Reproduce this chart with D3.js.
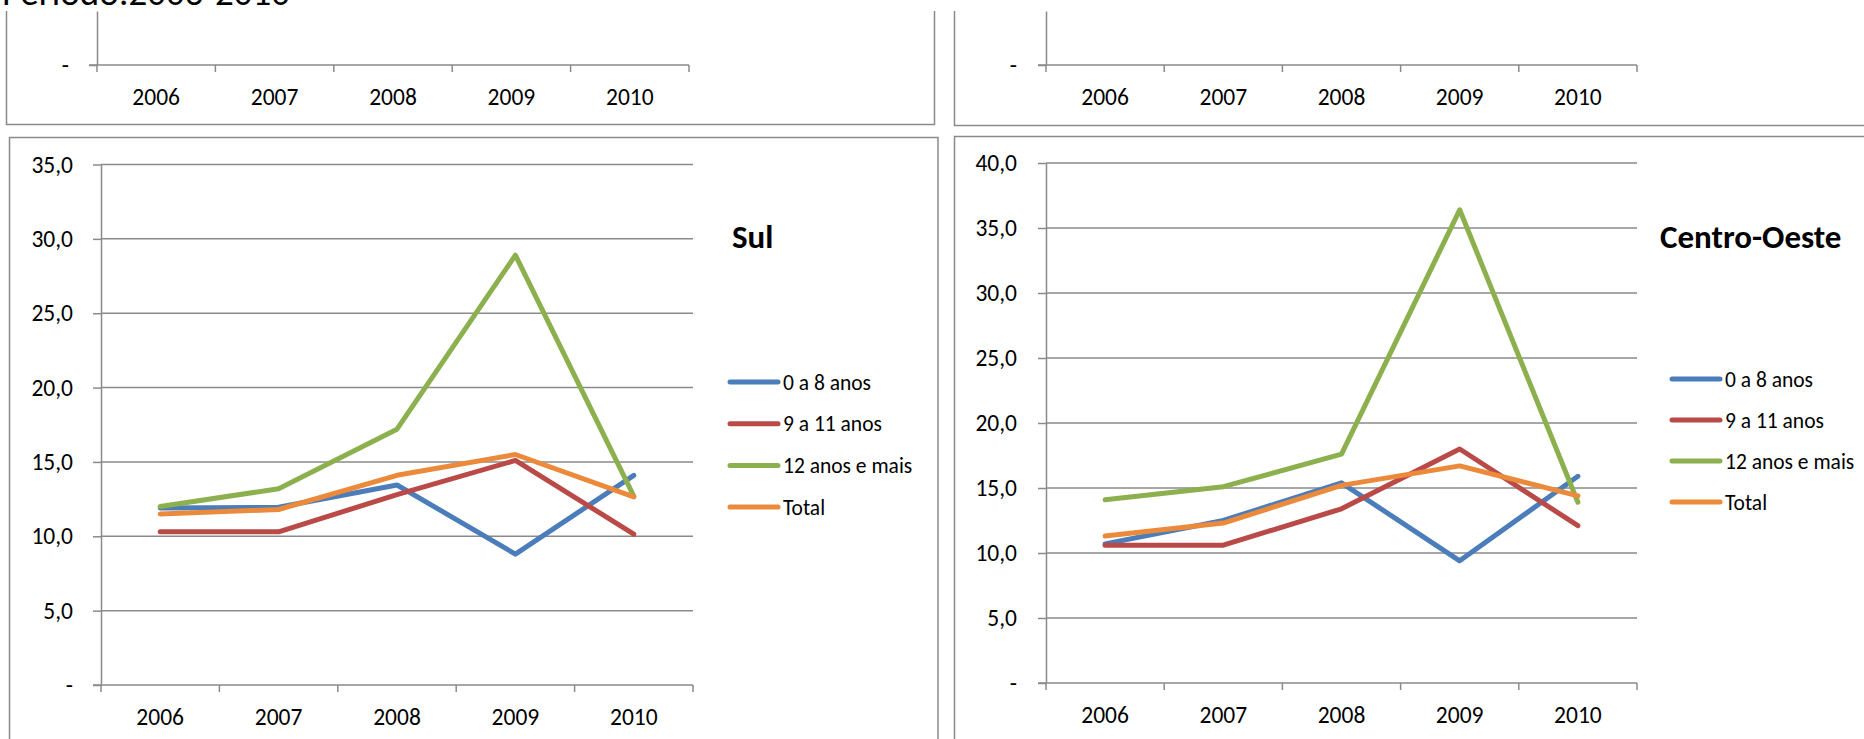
<!DOCTYPE html>
<html>
<head>
<meta charset="utf-8">
<script src="https://cdn.jsdelivr.net/npm/d3@7"></script>
<style>
  body { margin: 0; background: #fff; }
  svg text { font-family: Carlito, Lato, sans-serif; fill: #000; }
</style>
</head>
<body>
<script>
// categorias e series
var years = ["2006", "2007", "2008", "2009", "2010"];
var seriesNames = ["0 a 8 anos", "9 a 11 anos", "12 anos e mais", "Total"];

var sul0a8    = [11.9, 11.95, 13.45, 8.8, 14.1];
var sul9a11   = [10.3, 10.3, 12.8, 15.1, 10.15];
var sul12mais = [12.0, 13.2, 17.2, 28.9, 12.7];
var sulTotal  = [11.5, 11.8, 14.1, 15.5, 12.65];

var co0a8    = [10.7, 12.5, 15.4, 9.4, 15.9];
var co9a11   = [10.6, 10.6, 13.4, 18.0, 12.1];
var co12mais = [14.1, 15.1, 17.6, 36.4, 13.9];
var coTotal  = [11.3, 12.3, 15.2, 16.7, 14.4];

var sulTicks = [0, 5, 10, 15, 20, 25, 30, 35];
var coTicks  = [0, 5, 10, 15, 20, 25, 30, 35, 40];

var colors = ["#4a7dba", "#b94a47", "#8db04e", "#ec8a3c"];
var gray = "#8a8a8a";

var width = 1864, height = 739;
var svg = d3.select("body").append("svg")
  .attr("width", width)
  .attr("height", height);

function fmt(d) {
  return d === 0 ? "-" : d.toFixed(1).replace(".", ",");
}

// bordas dos paineis
var borders = [
  {x: 6.5, y: -20, w: 928, h: 144.5},
  {x: 954.5, y: -20, w: 1000, h: 145.5},
  {x: 9.5, y: 137.5, w: 928.5, h: 700},
  {x: 954.5, y: 136.5, w: 1000, h: 700}
];
svg.selectAll("rect.border").data(borders).enter().append("rect")
  .attr("class", "border")
  .attr("x", function (b) { return b.x; })
  .attr("y", function (b) { return b.y; })
  .attr("width", function (b) { return b.w; })
  .attr("height", function (b) { return b.h; })
  .attr("fill", "#fff")
  .attr("stroke", gray)
  .attr("stroke-width", 1.5);

function xAxisBand(g, x, y0) {
  var xa = g.append("g")
    .attr("transform", "translate(0," + y0 + ")")
    .call(d3.axisBottom(x).tickSize(0).tickSizeOuter(0).tickPadding(0));
  xa.select(".domain").remove();
  xa.selectAll("text")
    .attr("y", 32)
    .attr("dy", "0.35em")
    .style("font-size", "23.5px");
  var edges = years.map(function (d) { return x(d); }).concat([x.range()[1]]);
  g.append("line")
    .attr("x1", x.range()[0] - 8).attr("x2", x.range()[1])
    .attr("y1", y0).attr("y2", y0)
    .attr("stroke", gray).attr("stroke-width", 1.5);
  g.selectAll("line.xtick").data(edges).enter().append("line")
    .attr("class", "xtick")
    .attr("x1", function (d) { return d; })
    .attr("x2", function (d) { return d; })
    .attr("y1", y0).attr("y2", y0 + 7)
    .attr("stroke", gray).attr("stroke-width", 1.5);
}

// paineis de cima (cortados)
function topPanel(x0, x1, pad) {
  var g = svg.append("g");
  var x = d3.scaleBand().domain(years).range([x0, x1]);
  var y = d3.scaleLinear().domain([0, 1]).range([65, 11]);
  var ya = g.append("g")
    .attr("transform", "translate(" + x0 + ",0)")
    .call(d3.axisLeft(y).tickValues([0]).tickSize(8).tickSizeOuter(0)
      .tickPadding(pad).tickFormat(fmt));
  ya.select(".domain").attr("stroke", gray).attr("stroke-width", 1.5);
  ya.selectAll(".tick line").attr("stroke", gray).attr("stroke-width", 1.5);
  ya.selectAll("text").style("font-size", "23.5px");
  xAxisBand(g, x, 65);
}
topPanel(97, 689, 20);
topPanel(1046, 1637, 21);

// paineis de baixo
function linePanel(opt) {
  var g = svg.append("g");
  var x = d3.scaleBand().domain(years).range([opt.x0, opt.x1]);
  var y = d3.scaleLinear().domain([0, opt.max]).range([opt.yBottom, opt.yTop]);

  g.selectAll("line.grid").data(opt.ticks.filter(function (t) { return t > 0; }))
    .enter().append("line")
    .attr("class", "grid")
    .attr("x1", opt.x0).attr("x2", opt.x1)
    .attr("y1", function (t) { return y(t); })
    .attr("y2", function (t) { return y(t); })
    .attr("stroke", gray).attr("stroke-width", 1.5);

  var ya = g.append("g")
    .attr("transform", "translate(" + opt.x0 + ",0)")
    .call(d3.axisLeft(y).tickValues(opt.ticks).tickSize(8).tickSizeOuter(0)
      .tickPadding(opt.pad).tickFormat(fmt));
  ya.select(".domain").attr("stroke", gray).attr("stroke-width", 1.5);
  ya.selectAll(".tick line").attr("stroke", gray).attr("stroke-width", 1.5);
  ya.selectAll("text").style("font-size", "23.5px");

  xAxisBand(g, x, opt.yBottom);

  var line = d3.line()
    .x(function (d, i) { return x(years[i]) + x.bandwidth() / 2; })
    .y(function (d) { return y(d); });

  g.selectAll("path.serie").data(opt.series).enter().append("path")
    .attr("class", "serie")
    .attr("d", function (s) { return line(s); })
    .attr("fill", "none")
    .attr("stroke", function (s, i) { return colors[i]; })
    .attr("stroke-width", 5)
    .attr("stroke-linejoin", "round")
    .attr("stroke-linecap", "round");

  g.append("text")
    .attr("x", opt.titleX).attr("y", opt.titleY)
    .style("font-size", "33px")
    .style("font-weight", "bold")
    .text(opt.title);

  var leg = g.selectAll("g.leg").data(seriesNames).enter().append("g")
    .attr("class", "leg")
    .attr("transform", function (d, i) {
      return "translate(" + opt.legX + "," + (opt.legY + i * opt.legStep) + ")";
    });
  leg.append("line")
    .attr("x1", 0).attr("x2", 48)
    .attr("stroke", function (d, i) { return colors[i]; })
    .attr("stroke-width", 5)
    .attr("stroke-linecap", "round");
  leg.append("text")
    .attr("x", 53).attr("dy", "0.35em")
    .style("font-size", "21.5px")
    .text(function (d) { return d; });
}

linePanel({
  x0: 101, x1: 693, yBottom: 685, yTop: 164.5, max: 35, ticks: sulTicks, pad: 20,
  series: [sul0a8, sul9a11, sul12mais, sulTotal],
  title: "Sul", titleX: 732, titleY: 248,
  legX: 730, legY: 382, legStep: 41.7
});

linePanel({
  x0: 1046, x1: 1637, yBottom: 683, yTop: 163, max: 40, ticks: coTicks, pad: 21,
  series: [co0a8, co9a11, co12mais, coTotal],
  title: "Centro-Oeste", titleX: 1660, titleY: 248,
  legX: 1672, legY: 379, legStep: 41
});

// faixa do titulo (cortada no topo)
svg.append("rect")
  .attr("x", 0).attr("y", 0).attr("width", width).attr("height", 11)
  .attr("fill", "#fff");
svg.append("text")
  .attr("x", 2).attr("y", 5)
  .style("font-size", "37px")
  .text("Período:2006-2010");
</script>
</body>
</html>
